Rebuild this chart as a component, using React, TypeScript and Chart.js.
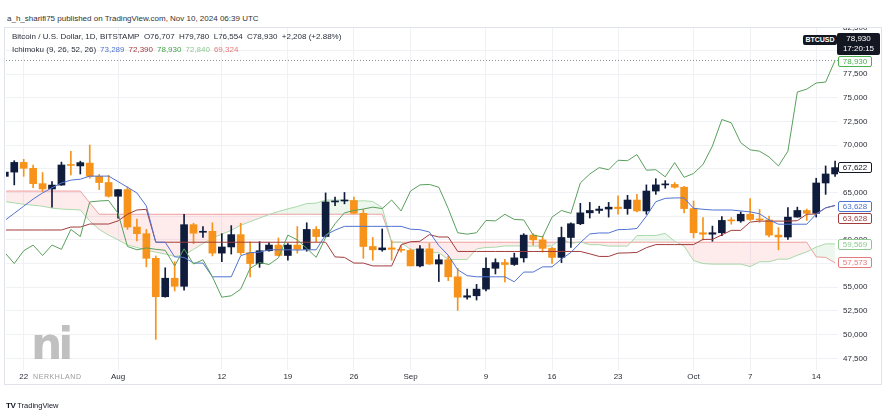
import React, { useEffect, useRef } from "react";
import { Chart, registerables } from "chart.js";

Chart.register(...registerables);

// Daily candles, Jul 20 2024 (index 0) .. Oct 16 2024 (index 88)
const OPEN = [
  66700, 67150, 68170, 67550, 65930, 65370, 65780, 67950, 67800, 68100,
  66700, 66050, 64600, 65300, 61350, 60650, 58050, 54000, 55950, 55100,
  61600, 60800, 60900, 58600, 59250, 60550, 58650, 57500, 58850, 59450,
  58350, 59450, 59000, 61100, 60350, 64000, 64100, 64150, 62800, 59300,
  58950, 59150, 59000, 58900, 57250, 59050, 57450, 57900, 56100, 53950,
  54100, 54800, 57000, 57600, 57400, 58100, 60500, 60000, 59100, 58150,
  60250, 61700, 62850, 63100, 63250, 63450, 63300, 64200, 63050, 65150,
  65800, 65850, 65550, 63300, 60750, 60600, 60750, 62050, 62000, 62700,
  62150, 62100, 60500, 60300, 62400, 63100, 62800, 66000, 66950,
];
const HIGH = [
  67600, 68350, 68500, 67900, 67100, 66150, 68200, 69350, 68300, 70000,
  66900, 66800, 65300, 65600, 62200, 61100, 58300, 57050, 57700, 62700,
  61750, 61400, 61800, 60650, 61500, 61750, 59800, 59800, 59700, 60200,
  59600, 61400, 61800, 61400, 64950, 64500, 65000, 64500, 63200, 60250,
  61150, 59900, 59400, 59050, 59400, 59650, 58450, 58300, 57000, 54800,
  55300, 58100, 58000, 57950, 58600, 60650, 60650, 60400, 59200, 61350,
  61800, 63850, 63950, 63550, 63950, 64650, 64700, 64800, 65800, 66450,
  66250, 66050, 65650, 64100, 62350, 61450, 62450, 62350, 62950, 64350,
  63200, 62500, 61300, 63400, 63450, 63250, 66500, 67800, 68300,
];
const LOW = [
  66250, 65800, 66700, 65500, 65100, 63450, 65750, 66850, 66950, 66500,
  65300, 64500, 62300, 61100, 59900, 57150, 49500, 53950, 54600, 54700,
  59600, 60250, 58300, 57700, 58500, 58450, 56100, 57100, 58800, 58300,
  57850, 58600, 58800, 59800, 60300, 63600, 63800, 62750, 58050, 57850,
  58800, 57850, 58700, 57250, 57150, 57400, 55600, 55700, 52550, 53750,
  53650, 54600, 56400, 55550, 57300, 57650, 59450, 58700, 57500, 57600,
  59200, 61600, 62300, 62800, 62400, 62700, 62700, 62950, 62700, 64800,
  65450, 65450, 62850, 60200, 60000, 59850, 60450, 61650, 61850, 62050,
  61850, 60300, 58950, 60050, 62400, 62050, 62400, 64800, 66700,
];
const CLOSE = [
  67150, 68170, 67550, 65930, 65370, 65780, 67900, 67850, 68150, 66700,
  66050, 64600, 65300, 61350, 60650, 58050, 54000, 55950, 55100, 61600,
  60700, 60900, 58600, 59250, 60550, 58650, 57500, 58850, 59450, 58350,
  59450, 59000, 61100, 60350, 64000, 64100, 64150, 62800, 59300, 58950,
  59150, 59000, 58900, 57250, 59050, 57450, 57900, 56100, 53950, 54100,
  54800, 57000, 57600, 57400, 58100, 60500, 60000, 59100, 58150, 60250,
  61700, 62850, 63100, 63250, 63450, 63300, 64200, 63050, 65150, 65800,
  65850, 65550, 63300, 60750, 60600, 60750, 62050, 62000, 62700, 62150,
  62100, 60500, 60300, 62400, 63100, 62800, 66000, 66950, 67622,
];

// Ichimoku (9, 26, 52, 26) lines
const TENKAN = [
  62050, 62800, 63550, 64300, 64950, 65500, 66000, 66300, 66400, 66725,
  66725, 66725, 66150, 65550, 64950, 63575, 59750, 59750, 58200, 58150,
  57550, 57550, 56100, 56100, 56100, 58325, 58650, 58700, 58950, 58950,
  58950, 58925, 58950, 58950, 60525, 61025, 61425, 61425, 61425, 61425,
  61425, 61425, 61425, 61125, 61075, 60825, 59400, 58375, 56850, 56225,
  56100, 56100, 56100, 56100, 55575, 56600, 56600, 57150, 57150, 57975,
  58675, 59700, 60625, 60725, 60725, 61075, 61100, 61200, 62500, 64025,
  64375, 64425, 64425, 63325, 63225, 63150, 63150, 63150, 63050, 62950,
  62750, 62100, 61650, 61650, 61650, 61650, 62725, 63375, 63628,
];
const KIJUN = [
  61040, 61040, 61040, 61040, 61040, 61040, 61040, 61350, 61350, 61670,
  61670, 61670, 62000, 62700, 63150, 63220, 59750, 59750, 59750, 59750,
  59750, 59750, 59750, 59750, 59750, 59750, 59750, 59750, 59750, 59750,
  59750, 59750, 59750, 59750, 59750, 58200, 58150, 57550, 57550, 57250,
  57250, 57250, 59475, 59800, 59850, 60550, 60300, 60300, 58775, 58775,
  58775, 58775, 58775, 58775, 58775, 58775, 58775, 58775, 58775, 58775,
  58775, 58775, 58525, 58250, 58250, 58600, 58625, 58675, 59175, 59500,
  59500, 59500, 59500, 59500, 60050, 60050, 60525, 61000, 61000, 61875,
  61975, 61975, 61975, 61975, 62025, 62700, 62725, 63375, 63628,
];
const SPAN_A = [
  64050, 63900, 63750, 63650, 63550, 63350, 63250, 63200, 63150, 62000,
  61100, 60500, 60000, 59450, 59200, 58900, 58700, 58500, 58250, 58400,
  59000, 59600, 60200, 60600, 61000, 61545, 61920, 62295, 62670, 62995,
  63270, 63520, 63825, 63875, 64198, 64198, 64198, 64075, 64125, 64050,
  63398, 59750, 59750, 58975, 58950, 58650, 58650, 57925, 57925, 57925,
  59038, 59200, 59225, 59350, 59350, 59350, 59338, 59350, 59350, 60138,
  59613, 59788, 59488, 59488, 59338, 59338, 59338, 60450, 60463, 60463,
  60688, 59850, 59338, 57813, 57500, 57438, 57438, 57438, 57438, 57175,
  57688, 57688, 57963, 57963, 58375, 58725, 59238, 59575, 59569,
];
const SPAN_B = [
  65150, 65150, 65150, 65150, 65150, 65150, 65150, 65150, 65150, 63900,
  62700, 62700, 62700, 62700, 62700, 62700, 62700, 62700, 62700, 62700,
  62700, 62700, 62700, 62700, 62700, 62700, 62700, 62700, 62700, 62700,
  62700, 62700, 62700, 62700, 62700, 62700, 62700, 62700, 62700, 62700,
  62700, 59750, 59750, 59750, 59750, 59750, 59750, 59750, 59750, 59750,
  59750, 59750, 59750, 59750, 59750, 59750, 59750, 59750, 59750, 59750,
  59750, 59750, 59750, 59750, 59750, 59750, 59750, 59750, 59750, 59750,
  59750, 59750, 59750, 59750, 59750, 59750, 59750, 59750, 59750, 59750,
  59750, 59750, 59750, 59750, 59750, 59750, 58200, 58150, 57573,
];
const CHIKOU = [
  58650, 57500, 58850, 59450, 58350, 59450, 59000, 61100, 60350, 64000,
  64100, 64150, 62800, 59300, 58950, 59150, 59000, 58900, 57250, 59050,
  57450, 57900, 56100, 53950, 54100, 54800, 57000, 57600, 57400, 58100,
  60500, 60000, 59100, 58150, 60250, 61700, 62850, 63100, 63250, 63450,
  63300, 64200, 63050, 65150, 65800, 65850, 65550, 63300, 60750, 60600,
  60750, 62050, 62000, 62700, 62150, 62100, 60500, 60300, 62400, 63100,
  62800, 66000, 66950, 67622, 67400, 68400, 68350, 69000, 67350, 67400,
  66650, 68150, 66600, 67000, 67950, 69900, 72700, 72350, 70250, 69500,
  69350, 68750, 67800, 69350, 75600, 75900, 76550, 76650, 78930,
];

const TICK_IDX = [2, 12, 23, 30, 37, 43, 51, 58, 65, 73, 79, 86];
const TICK_TEXT = ["22", "Aug", "12", "19", "26", "Sep", "9", "16", "23", "Oct", "7", "14"];
const PRICE_TICKS = [47500, 50000, 52500, 55000, 57500, 60000, 62500, 65000, 67500, 70000, 72500, 75000, 77500, 80000];
const LAST_PRICE = 78930;

const FONT = "'Liberation Sans', Arial, sans-serif";
const UP = "#0f1c3b";
const DOWN = "#f7931a";
const GRID = "#eff1f5";
const TXT = "#2a2e39";

const X_MIN = 0.124;
const X_MAX = 88.31;
const Y_MIN = 46267;
const Y_MAX = 82354;

function Box(props: { top: number; color: string; text: string }) {
  return (
    <div
      style={{
        position: "absolute",
        left: 838,
        top: props.top,
        width: 34,
        height: 11,
        boxSizing: "border-box",
        border: `1px solid ${props.color}`,
        borderRadius: 2,
        background: "#fff",
        color: props.color,
        fontSize: 8,
        lineHeight: "9px",
        textAlign: "center",
        fontFamily: FONT,
      }}
    >
      {props.text}
    </div>
  );
}

export default function App() {
  const ref = useRef<HTMLCanvasElement>(null);

  useEffect(() => {
    if (!ref.current) return;
    const idx = OPEN.map((_, i) => i);
    const colors = OPEN.map((o, i) => (CLOSE[i] >= o ? UP : DOWN));
    const pts = (arr: number[]) => arr.map((y, i) => ({ x: i, y }));
    const line = (label: string, data: number[], color: string, order: number, extra: any = {}) => ({
      type: "line" as const,
      label,
      data: pts(data),
      borderColor: color,
      backgroundColor: color,
      borderWidth: 1,
      pointRadius: 0,
      tension: 0,
      order,
      ...extra,
    });

    const chart = new Chart(ref.current, {
      type: "bar",
      data: {
        datasets: [
          line("Lagging Span", CHIKOU, "#5a9f5c", 1),
          line("Conversion Line", TENKAN, "#4f73d1", 1),
          line("Base Line", KIJUN, "#a13c3c", 1),
          {
            type: "line",
            label: "Last price",
            data: [
              { x: X_MIN, y: LAST_PRICE },
              { x: X_MAX, y: LAST_PRICE },
            ],
            borderColor: "#8a8d96",
            borderWidth: 1,
            borderDash: [1, 2],
            pointRadius: 0,
            order: 1,
          },
          {
            type: "bar",
            label: "Body",
            data: idx.map((i) => ({ x: i, y: [OPEN[i], CLOSE[i]] })),
            backgroundColor: colors,
            borderWidth: 0,
            barThickness: 7,
            minBarLength: 1,
            grouped: false,
            order: 2,
          },
          {
            type: "bar",
            label: "Wick",
            data: idx.map((i) => ({ x: i, y: [LOW[i], HIGH[i]] })),
            backgroundColor: colors,
            borderWidth: 0,
            barThickness: 1,
            grouped: false,
            order: 3,
          },
          line("Leading Span A", SPAN_A, "#a9d8aa", 4, {
            fill: { target: 7, above: "rgba(76,175,80,0.10)", below: "rgba(242,54,69,0.10)" },
          }),
          line("Leading Span B", SPAN_B, "#f0a3a3", 4),
        ],
      } as any,
      options: {
        responsive: false,
        animation: false,
        devicePixelRatio: 1,
        layout: { padding: 0 },
        plugins: { legend: { display: false }, tooltip: { enabled: false } },
        scales: {
          x: {
            type: "linear",
            min: X_MIN,
            max: X_MAX,
            offset: false,
            grid: { color: GRID, drawTicks: false, offset: false },
            border: { display: false },
            afterBuildTicks: (s: any) => {
              s.ticks = TICK_IDX.map((v) => ({ value: v }));
            },
            afterFit: (s: any) => {
              s.height = 15;
              s.paddingLeft = 0;
              s.paddingRight = 0;
            },
            ticks: {
              autoSkip: false,
              maxRotation: 0,
              padding: 2,
              color: TXT,
              font: { size: 8, family: FONT },
              callback: (v: any) => {
                const k = TICK_IDX.indexOf(Number(v));
                return k >= 0 ? TICK_TEXT[k] : "";
              },
            },
          },
          y: {
            type: "linear",
            position: "right",
            min: Y_MIN,
            max: Y_MAX,
            grid: { color: GRID, drawTicks: false },
            border: { display: false },
            afterBuildTicks: (s: any) => {
              s.ticks = PRICE_TICKS.map((v) => ({ value: v }));
            },
            afterFit: (s: any) => {
              s.width = 44;
              s.paddingTop = 0;
              s.paddingBottom = 0;
            },
            ticks: {
              autoSkip: false,
              padding: 5,
              color: TXT,
              font: { size: 8, family: FONT },
              callback: (v: any) => Number(v).toLocaleString("en-US"),
            },
          },
        },
      } as any,
    });
    return () => chart.destroy();
  }, []);

  const small = { fontFamily: FONT, fontSize: 8, lineHeight: "10px", whiteSpace: "nowrap" as const };

  return (
    <div
      style={{
        position: "fixed",
        left: 0,
        top: 0,
        width: 890,
        height: 420,
        background: "#fff",
        overflow: "hidden",
      }}
    >
      <div style={{ ...small, position: "absolute", left: 7, top: 14, color: "#333" }}>
        a_h_sharifi75 published on TradingView.com, Nov 10, 2024 06:39 UTC
      </div>
      <div
        style={{
          position: "absolute",
          left: 4,
          top: 27,
          width: 878,
          height: 358,
          boxSizing: "border-box",
          border: "1px solid #e0e3eb",
        }}
      />
      <canvas
        ref={ref}
        width={876}
        height={357}
        style={{ position: "absolute", left: 6, top: 28, width: 876, height: 357 }}
      />
      {/* partly hidden top price-scale label */}
      <div style={{ position: "absolute", left: 843, top: 28, width: 36, height: 4, overflow: "hidden" }}>
        <div style={{ ...small, position: "absolute", left: 0, top: -5, color: TXT }}>82,500</div>
      </div>
      <div style={{ ...small, position: "absolute", left: 12, top: 31.5, color: "#2a2e39" }}>
        Bitcoin / U.S. Dollar, 1D, BITSTAMP&nbsp; O76,707&nbsp; H79,780&nbsp; L76,554&nbsp; C78,930&nbsp; +2,208 (+2.88%)
      </div>
      <div style={{ ...small, position: "absolute", left: 12, top: 45, color: "#2a2e39" }}>
        Ichimoku (9, 26, 52, 26)
        <span style={{ color: "#4f73d1", marginLeft: 4 }}>73,289</span>
        <span style={{ color: "#a13c3c", marginLeft: 4 }}>72,390</span>
        <span style={{ color: "#43a047", marginLeft: 4 }}>78,930</span>
        <span style={{ color: "#8fc991", marginLeft: 4 }}>72,840</span>
        <span style={{ color: "#e57a7a", marginLeft: 4 }}>69,324</span>
      </div>

      {/* watermark */}
      <div
        style={{
          position: "absolute",
          left: 31,
          top: 320,
          fontFamily: "'DejaVu Sans', sans-serif",
          fontWeight: 700,
          fontSize: 44,
          lineHeight: "48px",
          letterSpacing: -4,
          color: "rgba(150,150,150,0.6)",
        }}
      >
        ni
      </div>
      <div
        style={{
          position: "absolute",
          left: 33,
          top: 372,
          fontFamily: FONT,
          fontSize: 7,
          lineHeight: "9px",
          letterSpacing: 0.6,
          color: "#9a9a9a",
        }}
      >
        NERKHLAND
      </div>

      {/* price-scale labels */}
      <div
        style={{
          position: "absolute",
          left: 803,
          top: 35,
          width: 34,
          height: 10,
          background: "#131722",
          color: "#fff",
          fontFamily: FONT,
          fontSize: 7,
          fontWeight: 700,
          lineHeight: "10px",
          textAlign: "center",
          borderRadius: 2,
        }}
      >
        BTCUSD
      </div>
      <div
        style={{
          position: "absolute",
          left: 837,
          top: 33,
          width: 43,
          height: 22,
          background: "#131722",
          color: "#fff",
          fontFamily: FONT,
          fontSize: 8,
          lineHeight: "10px",
          paddingTop: 1,
          boxSizing: "border-box",
          textAlign: "center",
          borderRadius: 2,
        }}
      >
        78,930
        <br />
        17:20:15
      </div>
      <Box top={56} color="#4caf50" text="78,930" />
      <Box top={162} color="#131722" text="67,622" />
      <Box top={201} color="#4f73d1" text="63,628" />
      <Box top={212.5} color="#a13c3c" text="63,628" />
      <Box top={239} color="#8fc991" text="59,569" />
      <Box top={257} color="#e57a7a" text="57,573" />

      {/* footer */}
      <div style={{ position: "absolute", left: 6, top: 394, fontFamily: FONT, whiteSpace: "nowrap", color: "#131722" }}>
        <span style={{ fontSize: 8, fontWeight: 900, letterSpacing: -0.5 }}>TV</span>
        <span style={{ fontSize: 7.5, marginLeft: 2 }}>TradingView</span>
      </div>
    </div>
  );
}
